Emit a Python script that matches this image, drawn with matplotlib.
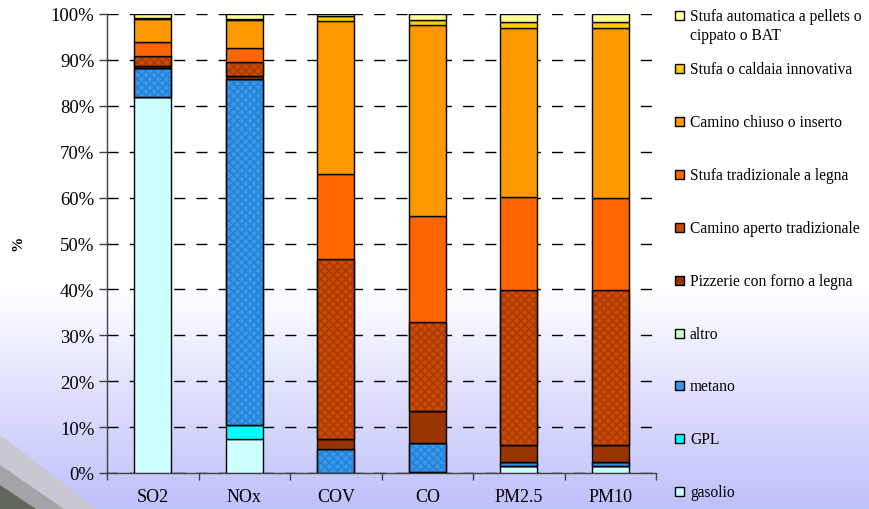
import numpy as np
import matplotlib.pyplot as plt
from matplotlib.patches import Polygon, Rectangle

plt.rcParams['font.family'] = 'Liberation Serif'
plt.rcParams['hatch.linewidth'] = 1.2

# inquinanti
categorie = ['SO2', 'NOx', 'COV', 'CO', 'PM2.5', 'PM10']

# quote percentuali per fonte (dal basso verso l'alto)
gasolio             = [82.0,  7.5,  0.0,  0.3,  1.6,  1.6]
gpl                 = [ 0.0,  3.0,  0.0,  0.0,  0.0,  0.0]
metano              = [ 6.2, 75.3,  5.2,  6.2,  0.9,  0.9]
altro               = [ 0.0,  0.0,  0.0,  0.0,  0.0,  0.0]
pizzerie            = [ 0.5,  0.8,  2.3,  7.1,  3.6,  3.6]
camino_aperto       = [ 2.2,  2.9, 39.1, 19.2, 33.8, 33.7]
stufa_tradizionale  = [ 2.9,  3.2, 18.5, 23.2, 20.2, 20.2]
camino_chiuso       = [ 5.1,  6.1, 33.4, 41.5, 36.8, 36.9]
stufa_innovativa    = [ 0.2,  0.2,  1.0,  1.3,  1.3,  1.3]
stufa_automatica    = [ 0.9,  1.0,  0.5,  1.2,  1.8,  1.8]

serie = [
    ('gasolio', gasolio, '#CCFFFF', None),
    ('GPL', gpl, '#00FFFF', None),
    ('metano', metano, '#3399EE', '#2A7FD0'),
    ('altro', altro, '#CCFFCC', None),
    ('Pizzerie con forno a legna', pizzerie, '#993300', None),
    ('Camino aperto tradizionale', camino_aperto, '#CC4C00', '#A83A00'),
    ('Stufa tradizionale a legna', stufa_tradizionale, '#FF6600', None),
    ('Camino chiuso o inserto', camino_chiuso, '#FF9900', None),
    ('Stufa o caldaia innovativa', stufa_innovativa, '#FFCC00', None),
    ('Stufa automatica a pellets o\ncippato o BAT', stufa_automatica, '#FFFF99', None),
]

W, H = 869, 510
fig = plt.figure(figsize=(W / 100, H / 100), dpi=100)

# sfondo sfumato bianco -> lilla
bg = fig.add_axes([0, 0, 1, 1], zorder=-10)
bg.axis('off')
grad = np.ones((H, 1, 3))
ys = np.arange(H)
t = np.clip((ys - 285) / (H - 285), 0, 1)
top = np.array([1.0, 1.0, 1.0])
bottom = np.array([190, 192, 250]) / 255
grad[:, 0, :] = top + (bottom - top) * t[:, None]
bg.imshow(grad, aspect='auto', extent=[0, W, H, 0])
bg.set_xlim(0, W)
bg.set_ylim(H, 0)
# angolo grigio in basso a sinistra
bg.add_patch(Polygon([(0, 436), (96, 510), (0, 510)], closed=True,
                     facecolor='#C8C8D0', edgecolor='none'))
bg.add_patch(Polygon([(0, 466), (64, 510), (0, 510)], closed=True,
                     facecolor='#A4A4AA', edgecolor='none'))
bg.add_patch(Polygon([(0, 486), (36, 510), (0, 510)], closed=True,
                     facecolor='#62685C', edgecolor='none'))

ax = fig.add_axes([107 / W, 36 / H, (656 - 107) / W, (474 - 15) / H])
ax.set_facecolor('none')

x = np.arange(len(categorie))
base = np.zeros(len(categorie))
for nome, valori, colore, tratteggio in serie:
    v = np.array(valori)
    ax.bar(x, v, width=0.4, bottom=base, color=colore, edgecolor='black',
           linewidth=1.0, zorder=3)
    if tratteggio is not None:
        ax.bar(x, v, width=0.4, bottom=base, facecolor='none',
               edgecolor=tratteggio, linewidth=0, hatch='xxxx', zorder=3)
        ax.bar(x, v, width=0.4, bottom=base, facecolor='none',
               edgecolor='black', linewidth=1.0, zorder=3)
    base = base + v

ax.set_xlim(-0.5, len(categorie) - 0.5)
ax.set_ylim(0, 100)
ax.set_yticks(range(0, 101, 10))
ax.set_yticklabels([f'{v}%' for v in range(0, 101, 10)], fontsize=13.5)
ax.set_xticks(x)
ax.set_xticklabels(categorie, fontsize=13)
ax.set_xticks(np.arange(-0.5, len(categorie)), minor=True)
ax.tick_params(axis='x', which='major', length=0, pad=11)
ax.tick_params(axis='x', which='minor', length=5, width=1, color='#404040')
ax.tick_params(axis='y', length=6, width=1, color='#404040', pad=3)

for s in ['top', 'right']:
    ax.spines[s].set_visible(False)
for s in ['left', 'bottom']:
    ax.spines[s].set_color('#404040')
    ax.spines[s].set_linewidth(1.0)

ax.yaxis.grid(True, color='black', linestyle=(0, (8, 8)), linewidth=1.0, zorder=0)
ax.set_axisbelow(True)

fig.text(18 / W, 1 - 243 / H, '%', rotation=90, fontsize=11, fontweight='bold',
         ha='center', va='center')

# legenda costruita a mano, voci dall'alto verso il basso
righe_y = [17, 70, 123, 176, 229, 282, 335, 387, 440, 493]
for (nome, valori, colore, tratteggio), yy in zip(serie[::-1], righe_y):
    bg.add_patch(Rectangle((675, yy - 5), 9, 9, facecolor=colore,
                           edgecolor='black', linewidth=1.0))
    righe = nome.split('\n')
    for k, riga in enumerate(righe):
        bg.text(690, yy + 19 * k, riga, fontsize=11.2, va='center', ha='left')

fig.savefig('out.png', dpi=100)
